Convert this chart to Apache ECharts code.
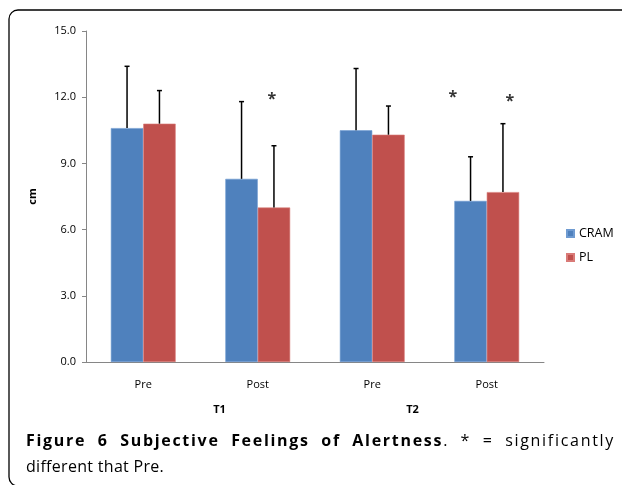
<!DOCTYPE html>
<html><head><meta charset="utf-8">
<script src="https://cdn.jsdelivr.net/npm/echarts@6/dist/echarts.min.js"></script>
<style>html,body{margin:0;padding:0;background:#fff}#c{width:622px;height:485px}</style>
</head><body><div id="c"></div>
<script>
var categories = ['Pre', 'Post', 'Pre', 'Post'];
var groups = ['T1', 'T2'];
var cramMean = [10.6, 8.3, 10.5, 7.3];
var cramSD = [2.8, 3.5, 2.8, 2.0];
var plMean = [10.8, 7.0, 10.3, 7.7];
var plSD = [1.5, 2.8, 1.3, 3.1];
var yTicks = [0, 3, 6, 9, 12, 15];
// significance markers: [category index, value, horizontal shift]
var stars = [[1, 11.9, 14], [3, 12.0, -34], [3, 11.8, 23]];

var chart = echarts.init(document.getElementById('c'));
var BW = 0.283;
function errSeries(mean, sd, side) {
  return {
    type: 'custom', z: 5,
    data: mean.map(function (m, i) { return [i, m + sd[i], m]; }),
    renderItem: function (params, api) {
      var band = api.size([1, 0])[0];
      var top = api.coord([api.value(0), api.value(1)]);
      var bot = api.coord([api.value(0), api.value(2)]);
      var x = top[0] + side * band * BW / 2;
      return { type: 'group', children: [
        { type: 'line', shape: { x1: x, y1: top[1], x2: x, y2: bot[1] }, style: { stroke: '#000', lineWidth: 1.5 } },
        { type: 'line', shape: { x1: x - 2.5, y1: top[1], x2: x + 2.5, y2: top[1] }, style: { stroke: '#000', lineWidth: 1.5 } }
      ] };
    }
  };
}
var font = 'Open Sans';
var capSize = 16;

// caption, laid out character by character (first line justified with letter spacing)
var line1 = [[['Figure', 'b']], [['6', 'b']], [['Subjective', 'b']], [['Feelings', 'b']], [['of', 'b']],
  [['Alertness', 'b'], ['.', 'n']], [['*', 'n']], [['=', 'n']], [['significantly', 'n']]];
var line2 = [[['different', 'n']], [['that', 'n']], [['Pre.', 'n']]];
var ctx = document.createElement('canvas').getContext('2d');
function cw(ch, s) {
  ctx.font = (s === 'b' ? 'bold ' : '') + capSize + 'px "' + font + '"';
  return ctx.measureText(ch).width;
}
function wordWidth(word, ls) {
  var w = 0;
  word.forEach(function (seg) { for (var i = 0; i < seg[0].length; i++) w += cw(seg[0][i], seg[1]) + ls; });
  return w;
}
var capGraphics = [];
function layLine(words, left, right, y, justify, ls) {
  var widths = words.map(function (w) { return wordWidth(w, ls); });
  var total = widths.reduce(function (a, b) { return a + b; }, 0);
  var gap = justify ? (right - left - total) / (words.length - 1) : cw(' ', 'n') + ls;
  var x = left;
  words.forEach(function (word) {
    word.forEach(function (seg) {
      for (var i = 0; i < seg[0].length; i++) {
        capGraphics.push({ type: 'text', x: x, y: y, silent: true, style: {
          text: seg[0][i], fontFamily: font, fontSize: capSize,
          fontWeight: seg[1] === 'b' ? 'bold' : 'normal', fill: '#000', verticalAlign: 'middle'
        } });
        x += cw(seg[0][i], seg[1]) + ls;
      }
    });
    x += gap;
  });
}
layLine(line1, 26, 615, 441, true, 1.7);
layLine(line2, 26, 615, 467, false, 0.3);

chart.setOption({
  animation: false,
  textStyle: { fontFamily: font },
  grid: { left: 86, right: 78, top: 31, bottom: 123 },
  legend: {
    orient: 'vertical', left: 561, top: 220, itemWidth: 7, itemHeight: 7, itemGap: 7,
    icon: 'rect', textStyle: { fontSize: 12.5, color: '#000', fontFamily: font, lineHeight: 17 },
    data: ['CRAM', 'PL']
  },
  xAxis: [{
    type: 'category', data: categories,
    axisLine: { lineStyle: { color: '#868686' } },
    axisTick: { lineStyle: { color: '#868686' }, length: 5 },
    axisLabel: { color: '#000', fontSize: 11, margin: 17 }
  }, {
    type: 'category', data: groups, position: 'bottom',
    axisLine: { show: false }, axisTick: { show: false },
    axisLabel: {
      margin: 42, fontSize: 11, fontWeight: 'bold', color: '#000',
      formatter: function (v, i) { return '{' + (i === 0 ? 'a' : 'b') + '|' + v + '}'; },
      rich: {
        a: { padding: [0, 0, 0, 38], fontWeight: 'bold', fontSize: 11, color: '#000' },
        b: { padding: [0, 34, 0, 0], fontWeight: 'bold', fontSize: 11, color: '#000' }
      }
    }
  }],
  yAxis: {
    type: 'value', min: yTicks[0], max: yTicks[yTicks.length - 1], interval: 3,
    name: 'cm', nameLocation: 'middle', nameGap: 48, nameRotate: 90,
    nameTextStyle: { fontWeight: 'bold', fontSize: 11, color: '#000' },
    axisLine: { show: true, lineStyle: { color: '#868686' } },
    axisTick: { show: true, lineStyle: { color: '#868686' }, length: 4 },
    splitLine: { show: false },
    axisLabel: { color: '#000', fontSize: 11, margin: 10, formatter: function (v) { return v.toFixed(1); } }
  },
  series: [
    { name: 'CRAM', type: 'bar', data: cramMean, barWidth: (BW * 100) + '%', barGap: '0%',
      itemStyle: { color: '#4F81BD', borderColor: '#6f9bd1', borderWidth: 0.6 } },
    { name: 'PL', type: 'bar', data: plMean, barWidth: (BW * 100) + '%', barGap: '0%',
      itemStyle: { color: '#C0504D', borderColor: '#d97a77', borderWidth: 0.6 } },
    errSeries(cramMean, cramSD, -1),
    errSeries(plMean, plSD, 1),
    { type: 'scatter', symbolSize: 0, z: 6,
      data: stars.map(function (s) { return { value: [s[0], s[1]], label: { offset: [s[2], 0] } }; }),
      label: { show: true, position: 'inside', formatter: '*', fontSize: 16, fontWeight: 'bold', color: '#000' } }
  ],
  graphic: [
    { type: 'rect', shape: { x: 9, y: 10, width: 660, height: 476, r: 9 }, style: { fill: 'none', stroke: '#000', lineWidth: 1.3 }, silent: true }
  ].concat(capGraphics)
});
</script></body></html>
